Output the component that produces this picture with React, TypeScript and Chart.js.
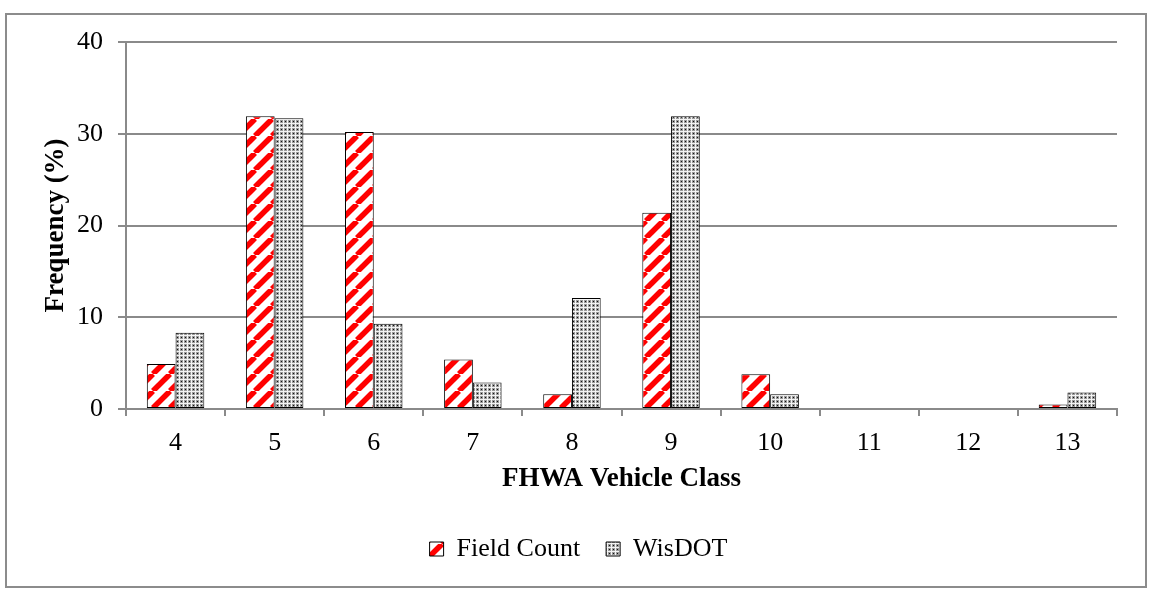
import React, { useEffect, useRef } from "react";
import { Chart, registerables } from "chart.js";

Chart.register(...registerables);

const categories = ["4", "5", "6", "7", "8", "9", "10", "11", "12", "13"];
const fieldCount = [4.9, 31.9, 30.2, 5.4, 1.6, 21.4, 3.8, 0, 0, 0.5];
const wisDOT = [8.3, 31.7, 9.3, 2.9, 12.1, 31.9, 1.6, 0, 0, 1.8];
const seriesLabels = ["Field Count", "WisDOT"];
const yTickValues = [0, 10, 20, 30, 40];
const xTitle = "FHWA Vehicle Class";
const yTitle = "Frequency (%)";

const FONT = "'Liberation Serif', 'Times New Roman', serif";
const GRID = "#8a8a8a";

function stripePattern(ctx: CanvasRenderingContext2D) {
  const T = 17;
  const c = document.createElement("canvas");
  c.width = T;
  c.height = T;
  const g = c.getContext("2d")!;
  g.fillStyle = "#ffffff";
  g.fillRect(0, 0, T, T);
  g.strokeStyle = "#ff0000";
  g.lineWidth = 5.5;
  for (let k = -1; k <= 1; k++) {
    g.beginPath();
    g.moveTo(k * T, T);
    g.lineTo(k * T + T, 0);
    g.stroke();
  }
  return ctx.createPattern(c, "repeat")!;
}

function dotPattern(ctx: CanvasRenderingContext2D) {
  const T = 4;
  const c = document.createElement("canvas");
  c.width = T;
  c.height = T;
  const g = c.getContext("2d")!;
  g.fillStyle = "#f4f4f4";
  g.fillRect(0, 0, T, T);
  g.fillStyle = "#9a9a9a";
  g.fillRect(0, 0, 3, 3);
  g.fillStyle = "#111111";
  g.fillRect(1, 1, 1, 1);
  return ctx.createPattern(c, "repeat")!;
}

export default function App() {
  const ref = useRef<HTMLCanvasElement>(null);

  useEffect(() => {
    const canvas = ref.current!;
    const ctx = canvas.getContext("2d")!;
    const chart = new Chart(ctx, {
      type: "bar",
      data: {
        labels: categories,
        datasets: [
          {
            label: seriesLabels[0],
            data: fieldCount,
            backgroundColor: stripePattern(ctx),
            borderColor: "#000000",
            borderWidth: 1,
            borderSkipped: false,
            categoryPercentage: 0.58,
            barPercentage: 1,
          },
          {
            label: seriesLabels[1],
            data: wisDOT,
            backgroundColor: dotPattern(ctx),
            borderColor: "#000000",
            borderWidth: 1,
            borderSkipped: false,
            categoryPercentage: 0.58,
            barPercentage: 1,
          },
        ],
      },
      options: {
        responsive: false,
        animation: false,
        layout: { padding: { left: 40, top: 42, right: 35, bottom: 20 } },
        plugins: {
          tooltip: { enabled: false },
          legend: {
            position: "bottom",
            labels: {
              boxWidth: 14,
              boxHeight: 14,
              padding: 26,
              color: "#000000",
              font: { family: FONT, size: 26 },
            },
          },
        },
        scales: {
          x: {
            afterFit: (s: any) => {
              s.height = 101;
            },
            grid: {
              display: true,
              drawOnChartArea: false,
              drawTicks: true,
              tickLength: 7,
              color: GRID,
              lineWidth: 2,
            },
            border: { display: true, color: GRID, width: 2 },
            ticks: {
              color: "#000000",
              padding: 12,
              font: { family: FONT, size: 26 },
              maxRotation: 0,
            },
            title: {
              display: true,
              text: xTitle,
              color: "#000000",
              font: { family: FONT, size: 27, weight: "bold" },
              padding: { top: 0, bottom: 15 },
            },
          },
          y: {
            min: 0,
            max: 40,
            afterFit: (s: any) => {
              s.width = 86;
            },
            afterBuildTicks: (s: any) => {
              s.ticks = yTickValues.map((v) => ({ value: v }));
            },
            grid: {
              color: GRID,
              lineWidth: 2,
              drawTicks: true,
              tickLength: 8,
            },
            border: { display: true, color: GRID, width: 2 },
            ticks: {
              color: "#000000",
              padding: 15,
              font: { family: FONT, size: 26 },
            },
            title: {
              display: true,
              text: yTitle,
              color: "#000000",
              font: { family: FONT, size: 27, weight: "bold" },
              padding: { top: 0, bottom: 0 },
            },
          },
        },
      },
    });
    return () => chart.destroy();
  }, []);

  return (
    <div style={{ position: "fixed", left: 0, top: 0, width: 1152, height: 592, background: "#ffffff" }}>
      <div
        style={{
          position: "absolute",
          left: 5,
          top: 13,
          width: 1138,
          height: 571,
          border: "2px solid #8c8c8c",
        }}
      />
      <canvas
        ref={ref}
        width={1152}
        height={592}
        style={{ position: "absolute", left: 0, top: 0, width: 1152, height: 592 }}
      />
    </div>
  );
}
